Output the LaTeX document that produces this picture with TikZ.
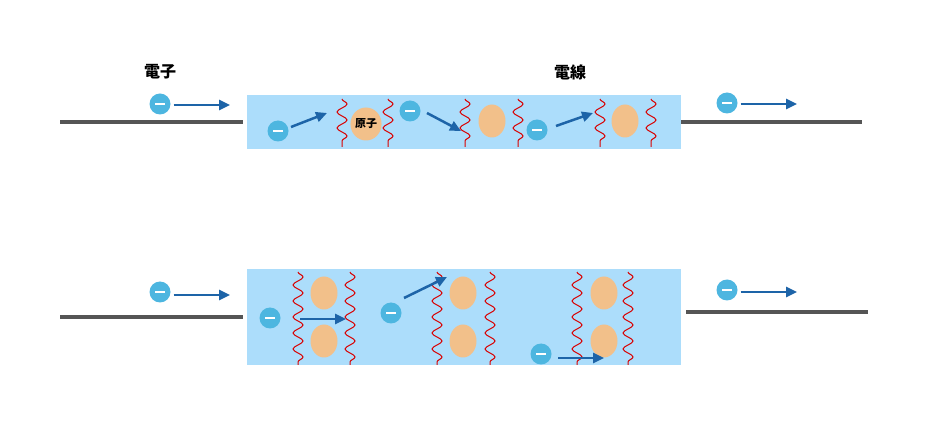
\documentclass[tikz,border=0pt]{standalone}
\usepackage{fontspec}
\newfontfamily\cjk{Noto Sans CJK JP}
\usetikzlibrary{arrows.meta, decorations.pathmorphing, shapes.geometric}
\definecolor{wirebg}{HTML}{ACDDFB}
\definecolor{elec}{HTML}{4DB6E0}
\definecolor{atomc}{HTML}{F2C08A}
\definecolor{arrowc}{HTML}{1D64A8}
\definecolor{leadc}{HTML}{555555}
\begin{document}
\begin{tikzpicture}[
    x=1pt, y=-1pt,
    wire/.style={fill=wirebg, draw=none},
    lead/.style={draw=leadc, line width=3.5pt},
    electron/.style={circle, fill=elec, minimum size=21pt, inner sep=0pt,
        path picture={\draw[white, line width=2.5pt] ([xshift=-5pt]path picture bounding box.center) -- ([xshift=5pt]path picture bounding box.center);}},
    atom/.style={ellipse, fill=atomc, minimum width=27pt, minimum height=33pt, inner sep=0pt, font=\cjk\bfseries\fontsize{11}{12}\selectfont},
    wave/.style={draw=red!85!black, line width=1pt, decorate, decoration={snake, segment length=16pt, amplitude=5pt}},
    move/.style={-{Triangle[length=11pt, width=10pt]}, draw=arrowc, line width=2.5pt},
    label/.style={font=\cjk\bfseries\fontsize{16}{18}\selectfont}
]
    \useasboundingbox (0,0) rectangle (935,430);
    % Top wire
    \fill[wire] (247,95) rectangle (681,149);
    \draw[lead] (60,122) -- (243,122);
    \draw[lead] (681,122) -- (862,122);
    \node[label] (lblE) at (160,72) {電子};
    \node[label] (lblW) at (570,72) {電線};
    \node[electron] (eIn) at (160,104) {};
    \coordinate (eInTip) at (230,105);
    \draw[move] (eIn.east) ++(3,1) -- (eInTip);
    \node[electron] (eOut) at (727,103) {};
    \coordinate (eOutTip) at (797,104);
    \draw[move] (eOut.east) ++(3,1) -- (eOutTip);
    \foreach \ax/\ay/\wl/\wr/\txt in {366/124/342/388/原子, 492/121/465/518/, 625/121/600/651/} {
        \node[atom] at (\ax,\ay) {\txt};
        \draw[wave] (\wl,99) -- (\wl,147);
        \draw[wave] (\wr,99) -- (\wr,147);
    }
    \foreach \ex/\ey/\sx/\sy/\tx/\ty in {278/131/291/127/327/113, 410/111/427/113/461/131, 537/130/556/126/593/113} {
        \node[electron] (e) at (\ex,\ey) {};
        \draw[move] (\sx,\sy) -- (\tx,\ty);
    }
    % Bottom wire
    \fill[wire] (247,269) rectangle (681,365);
    \draw[lead] (60,317) -- (243,317);
    \draw[lead] (686,312) -- (868,312);
    \node[electron] (fIn) at (160,292) {};
    \coordinate (fInTip) at (230,295);
    \draw[move] (fIn.east) ++(3,3) -- (fInTip);
    \node[electron] (fOut) at (727,290) {};
    \coordinate (fOutTip) at (797,292);
    \draw[move] (fOut.east) ++(3,2) -- (fOutTip);
    \foreach \ax/\wl/\wr in {324/298/350, 463/437/490, 604/577/628} {
        \node[atom] at (\ax,293) {};
        \node[atom] at (\ax,341) {};
        \draw[wave] (\wl,272) -- (\wl,365);
        \draw[wave] (\wr,272) -- (\wr,365);
    }
    \foreach \ex/\ey/\sx/\sy/\tx/\ty in {270/318/300/319/346/319, 391/313/404/298/447/277, 541/354/558/358/604/358} {
        \node[electron] (f) at (\ex,\ey) {};
        \draw[move] (\sx,\sy) -- (\tx,\ty);
    }
\end{tikzpicture}
\end{document}
